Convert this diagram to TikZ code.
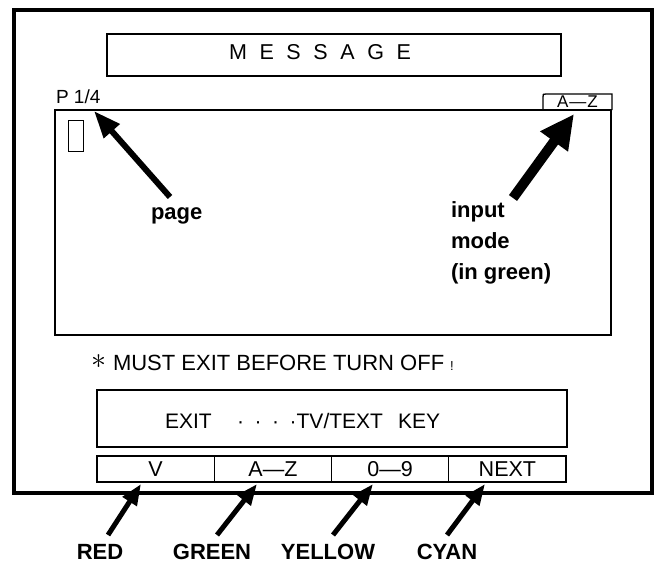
\documentclass[tikz,border=0pt]{standalone}
\usepackage{fontspec}
\setmainfont{Liberation Sans}
\usetikzlibrary{arrows.meta}
\begin{document}
\begin{tikzpicture}[x=1pt,y=-1pt,
  box/.style={draw, line width=1.4pt, inner sep=0pt, outer sep=0pt},
  btn/.style={draw, line width=1.3pt, inner sep=0pt, outer sep=0pt,
    minimum width=117.25pt, minimum height=26pt,
    font=\fontsize{21.5}{24}\selectfont},
  txt/.style={inner sep=0pt, outer sep=0pt},
  lbl/.style={inner sep=0pt, outer sep=0pt, font=\fontsize{22}{26}\selectfont\bfseries},
  smallarr/.style={line width=5pt, -{Triangle[length=21pt,width=16pt]}},
  pagearr/.style={line width=6pt, -{Triangle[length=27pt,width=20pt]}},
  bigarr/.style={line width=10pt, -{Triangle[length=34pt,width=32pt]}}
]
\useasboundingbox (0,0) rectangle (660,565);
\fill[white] (0,0) rectangle (660,565);

% outer frame
\node[draw, line width=3.2pt, inner sep=0pt, minimum width=638pt, minimum height=483pt] (frame) at (333,251.5) {};

% title box
\node[box, minimum width=454pt, minimum height=42pt] (msg) at (334,55) {};
\node[txt, anchor=base west, font=\fontsize{21.5}{24}\selectfont] (msgtxt) at (229,59.5)
  {M\hspace{12.6pt}E\hspace{12.6pt}S\hspace{12.6pt}S\hspace{12.6pt}A\hspace{12.6pt}G\hspace{12.6pt}E};

% page indicator
\node[txt, anchor=base west, font=\fontsize{19}{21}\selectfont] (pg) at (56,103) {P 1/4};

% main text area
\node[box, minimum width=556pt, minimum height=225pt] (main) at (333,222.5) {};
\draw[line width=1.3pt] (543,110) -- (543,97) .. controls (543,94) .. (546,94) -- (612,94) -- (612,110);
\node[txt, anchor=base, font=\fontsize{17}{19}\selectfont] (tab) at (577.5,107.5) {A\kern1pt—\kern1pt Z};

% cursor
\node[draw, line width=1pt, inner sep=0pt, minimum width=15pt, minimum height=31pt] (cur) at (75.5,135.5) {};

% labels inside
\node[lbl, anchor=base west] (page) at (151,219) {page};
\node[lbl, anchor=base west] (input) at (451,217) {input};
\node[lbl, anchor=base west] (mode) at (451,248) {mode};
\node[lbl, anchor=base west] (green) at (451,279) {(in green)};

\coordinate (ptail) at (170,197);
\coordinate (ptip) at (94,111);
\draw[pagearr] (ptail) -- (ptip);
\coordinate (itail) at (513,198);
\coordinate (itip) at (574,114);
\draw[bigarr] (itail) -- (itip);

% warning
\node[txt, scale=3] (ast) at (99,362) {$\ast$};
\node[txt, anchor=base west, font=\fontsize{22}{26}\selectfont] (warn) at (113,370)
  {MUST EXIT BEFORE TURN OFF\hspace{6pt}{\fontsize{13}{14}\selectfont !}};

% exit box
\node[box, minimum width=470pt, minimum height=57pt] (exitbox) at (332,418.5) {};
\node[txt, anchor=base west, font=\fontsize{21}{24}\selectfont] (ex1) at (165,428) {EXIT};
\node[txt, anchor=base east, font=\fontsize{21}{24}\selectfont] (ex2) at (383,428)
  {·\hspace{10.5pt}·\hspace{10.5pt}·\hspace{10.5pt}·TV/TEXT};
\node[txt, anchor=base west, font=\fontsize{21}{24}\selectfont] (ex3) at (398,428) {KEY};

% buttons
\node[btn] (b1) at (155.6,469) {V};
\node[btn] (b2) at (272.9,469) {A—Z};
\node[btn] (b3) at (390.1,469) {0—9};
\node[btn] (b4) at (507.4,469) {NEXT};

% colour labels and arrows
\node[lbl, anchor=base] (red) at (100,559) {RED};
\node[lbl, anchor=base] (grn) at (212,559) {GREEN};
\node[lbl, anchor=base] (yel) at (328,559) {YELLOW};
\node[lbl, anchor=base] (cyn) at (447,559) {CYAN};

\coordinate (t1) at (108,535); \coordinate (h1) at (141,484);
\coordinate (t2) at (217,535); \coordinate (h2) at (257,484);
\coordinate (t3) at (333,535); \coordinate (h3) at (373,484);
\coordinate (t4) at (447,535); \coordinate (h4) at (485,484);
\draw[smallarr] (t1) -- (h1);
\draw[smallarr] (t2) -- (h2);
\draw[smallarr] (t3) -- (h3);
\draw[smallarr] (t4) -- (h4);
\end{tikzpicture}
\end{document}
